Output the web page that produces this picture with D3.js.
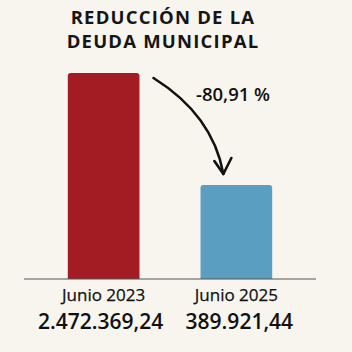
<!DOCTYPE html>
<html>
<head>
<meta charset="utf-8">
<script src="https://cdn.jsdelivr.net/npm/d3@7"></script>
<style>
  html, body { margin: 0; padding: 0; background: #f8f5ef; }
  svg { display: block; font-family: "Open Sans", sans-serif; }
</style>
</head>
<body>
<svg width="352" height="352"></svg>
<script>
const titleLines = ["REDUCCIÓN DE LA", "DEUDA MUNICIPAL"];
const periods = ["Junio 2023", "Junio 2025"];
const debt = [2472369.24, 389921.44];
const debtLabels = ["2.472.369,24", "389.921,44"];
const changeLabel = "-80,91 %";

const colors = ["#a31c23", "#5a9ec1"];

const W = 352, H = 352;
const baseY = 279, topY = 73;

const svg = d3.select("svg");

svg.append("rect").attr("width", W).attr("height", H).attr("fill", "#f8f5ef");

//--------------SCALES-----------------------------------
const x = d3.scaleBand()
            .domain(periods)
            .range([24, 316])
            .paddingInner(0.46)
            .paddingOuter(0.33);

// bars are not drawn to linear proportion in the original
const y = d3.scalePow()
            .exponent(0.425)
            .domain([0, d3.max(debt)])
            .range([baseY, topY]);

//--------------TITLE-----------------------------------
svg.append("g").selectAll("text")
   .data(titleLines)
   .join("text")
   .attr("x", 163)
   .attr("y", (d, i) => 23.5 + i * 24)
   .attr("text-anchor", "middle")
   .attr("font-size", 18.5)
   .attr("font-weight", 700)
   .attr("letter-spacing", 1.2)
   .attr("fill", "#151515")
   .text(d => d);

//--------------BARS------------------------------------
const rows = periods.map((p, i) => ({period: p, value: debt[i], label: debtLabels[i], color: colors[i]}));

svg.append("g").selectAll("path")
   .data(rows)
   .join("path")
   .attr("fill", d => d.color)
   .attr("d", d => {
     const x0 = x(d.period), w = x.bandwidth(), y0 = y(d.value), r = 3;
     return `M${x0},${baseY}V${y0 + r}Q${x0},${y0} ${x0 + r},${y0}H${x0 + w - r}Q${x0 + w},${y0} ${x0 + w},${y0 + r}V${baseY}Z`;
   });

// baseline
svg.append("line")
   .attr("x1", x.range()[0]).attr("x2", x.range()[1])
   .attr("y1", baseY).attr("y2", baseY)
   .attr("stroke", "#555")
   .attr("stroke-width", 1.2);

//--------------LABELS----------------------------------
svg.append("g").selectAll("text")
   .data(rows)
   .join("text")
   .attr("x", d => x(d.period) + x.bandwidth() / 2)
   .attr("y", 301)
   .attr("text-anchor", "middle")
   .attr("font-size", 17)
   .attr("fill", "#111")
   .attr("stroke", "#111")
   .attr("stroke-width", 0.25)
   .text(d => d.period);

svg.append("g").selectAll("text")
   .data(rows)
   .join("text")
   .attr("x", d => x(d.period) + x.bandwidth() / 2 + (d.period === periods[0] ? -3 : 3))
   .attr("y", 329)
   .attr("text-anchor", "middle")
   .attr("font-size", 21)
   .attr("font-weight", 600)
   .attr("fill", "#111")
   .text(d => d.label);

//--------------ARROW-----------------------------------
const a = rows[0], b = rows[1];
const sx = x(a.period) + x.bandwidth() + 14, sy = y(a.value) + 5;
const ex = x(b.period) + x.bandwidth() / 2 - 13, ey = y(b.value) - 11;

svg.append("path")
   .attr("d", `M${sx},${sy} C${sx + 32},${sy + 20} ${ex - 8},${ey - 45} ${ex},${ey}`)
   .attr("fill", "none")
   .attr("stroke", "#111")
   .attr("stroke-width", 2.6)
   .attr("stroke-linecap", "round");

svg.append("path")
   .attr("d", `M${ex - 9},${ey - 13} L${ex},${ey} L${ex + 8},${ey - 16}`)
   .attr("fill", "none")
   .attr("stroke", "#111")
   .attr("stroke-width", 2.6)
   .attr("stroke-linecap", "round")
   .attr("stroke-linejoin", "round");

svg.append("text")
   .attr("x", 196)
   .attr("y", 101)
   .attr("font-size", 18.5)
   .attr("font-weight", 600)
   .attr("fill", "#111")
   .text(changeLabel);
</script>
</body>
</html>
